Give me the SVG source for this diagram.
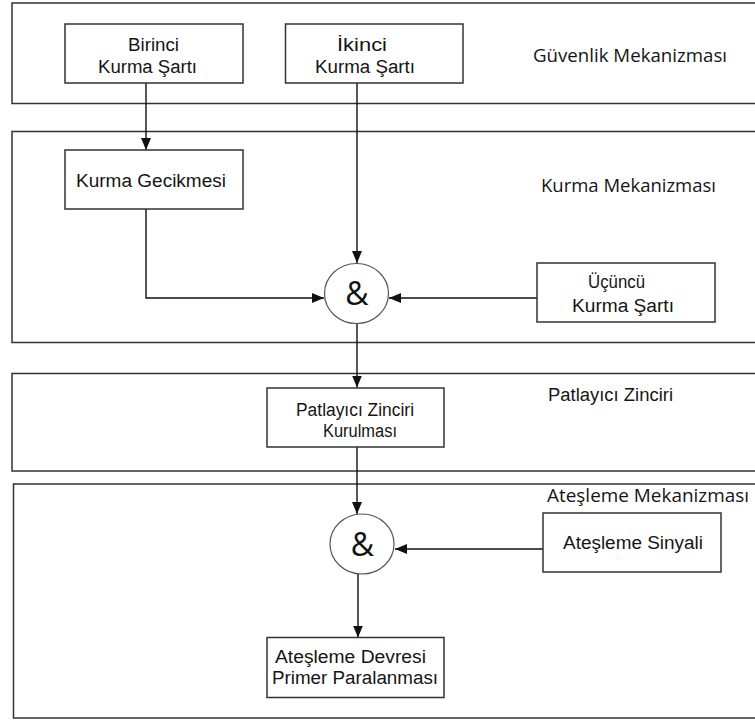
<svg xmlns="http://www.w3.org/2000/svg" width="755" height="720" viewBox="0 0 755 720">
  <style>
    .band { fill: none; stroke: #333; stroke-width: 1.5; }
    .box { fill: #fff; stroke: #333; stroke-width: 1.5; }
    .gate { fill: #fff; stroke: #555; stroke-width: 1.2; }
    .t { font-family: "Liberation Sans", Arial, sans-serif; font-size: 18px; fill: #151515; }
    .lbl { font-family: "Open Sans", "Noto Sans", sans-serif; font-size: 18px; fill: #151515; }
    .amp { font-family: "Open Sans", "Noto Sans", sans-serif; font-size: 32px; fill: #111; text-anchor: middle; }
    .wire { fill: none; stroke: #111; stroke-width: 1.4; }
  </style>
  <defs>
    <marker id="arrow" markerUnits="userSpaceOnUse" markerWidth="12" markerHeight="10" refX="12" refY="5" orient="auto">
      <path d="M0,0 L12,5 L0,10 Z" fill="#111"/>
    </marker>
  </defs>
  <rect width="755" height="720" fill="#fff"/>

  <!-- section bands -->
  <g id="bands">
    <rect class="band" x="12" y="3" width="770" height="100.5"/>
    <rect class="band" x="12" y="131.5" width="770" height="211"/>
    <rect class="band" x="12" y="373.5" width="770" height="97.5"/>
    <rect class="band" x="13.5" y="484" width="770" height="234"/>
  </g>

  <!-- section titles -->
  <g id="titles">
    <text class="lbl" x="533" y="62" textLength="194" lengthAdjust="spacingAndGlyphs">Güvenlik Mekanizması</text>
    <text class="lbl" x="541" y="192" textLength="175" lengthAdjust="spacingAndGlyphs">Kurma Mekanizması</text>
    <text class="t" x="548" y="401" textLength="125" lengthAdjust="spacingAndGlyphs">Patlayıcı Zinciri</text>
    <text class="lbl" x="547" y="502" textLength="202" lengthAdjust="spacingAndGlyphs">Ateşleme Mekanizması</text>
  </g>

  <!-- connectors -->
  <g id="connectors">
    <line class="wire" x1="146" y1="83" x2="146" y2="150" marker-end="url(#arrow)"/>
    <line class="wire" x1="357" y1="83" x2="357" y2="263" marker-end="url(#arrow)"/>
    <polyline class="wire" points="146,209 146,298 324,298" marker-end="url(#arrow)"/>
    <line class="wire" x1="537" y1="298" x2="389" y2="298" marker-end="url(#arrow)"/>
    <line class="wire" x1="357" y1="323" x2="357" y2="387.5" marker-end="url(#arrow)"/>
    <line class="wire" x1="357" y1="447" x2="357" y2="514" marker-end="url(#arrow)"/>
    <line class="wire" x1="543" y1="549" x2="395" y2="549" marker-end="url(#arrow)"/>
    <line class="wire" x1="358" y1="574" x2="358" y2="637.5" marker-end="url(#arrow)"/>
  </g>

  <g id="birinci">
    <rect class="box" x="65" y="24" width="178" height="59"/>
    <text class="t" x="128" y="51" textLength="51" lengthAdjust="spacingAndGlyphs">Birinci</text>
    <text class="t" x="98" y="73" textLength="99" lengthAdjust="spacingAndGlyphs">Kurma Şartı</text>
  </g>

  <g id="ikinci">
    <rect class="box" x="285.5" y="24" width="177.5" height="59"/>
    <text class="t" x="337" y="51" textLength="50" lengthAdjust="spacingAndGlyphs">İkinci</text>
    <text class="t" x="315" y="73" textLength="100" lengthAdjust="spacingAndGlyphs">Kurma Şartı</text>
  </g>

  <g id="kurma-gecikmesi">
    <rect class="box" x="65" y="150" width="178" height="59"/>
    <text class="t" x="76" y="187" textLength="150" lengthAdjust="spacingAndGlyphs">Kurma Gecikmesi</text>
  </g>

  <g id="gate-kurma">
    <ellipse class="gate" cx="356.5" cy="293.5" rx="32" ry="30"/>
    <text class="amp" x="357" y="305">&amp;</text>
  </g>

  <g id="ucuncu">
    <rect class="box" x="537" y="263" width="178" height="59"/>
    <text class="t" x="588" y="288" textLength="57" lengthAdjust="spacingAndGlyphs">Üçüncü</text>
    <text class="t" x="572" y="312" textLength="102" lengthAdjust="spacingAndGlyphs">Kurma Şartı</text>
  </g>

  <g id="patlayici">
    <rect class="box" x="267" y="388" width="177" height="59"/>
    <text class="t" x="296" y="416" textLength="118" lengthAdjust="spacingAndGlyphs">Patlayıcı Zinciri</text>
    <text class="t" x="323" y="437" textLength="74" lengthAdjust="spacingAndGlyphs">Kurulması</text>
  </g>

  <g id="gate-atesleme">
    <ellipse class="gate" cx="362" cy="544" rx="32" ry="30"/>
    <text class="amp" x="362.5" y="556">&amp;</text>
  </g>

  <g id="atesleme-sinyali">
    <rect class="box" x="543" y="513" width="178" height="59"/>
    <text class="t" x="563" y="549" textLength="140" lengthAdjust="spacingAndGlyphs">Ateşleme Sinyali</text>
  </g>

  <g id="atesleme-devresi">
    <rect class="box" x="267" y="637.5" width="177" height="60"/>
    <text class="t" x="275" y="663" textLength="151" lengthAdjust="spacingAndGlyphs">Ateşleme Devresi</text>
    <text class="t" x="272" y="684" textLength="166" lengthAdjust="spacingAndGlyphs">Primer Paralanması</text>
  </g>
</svg>
